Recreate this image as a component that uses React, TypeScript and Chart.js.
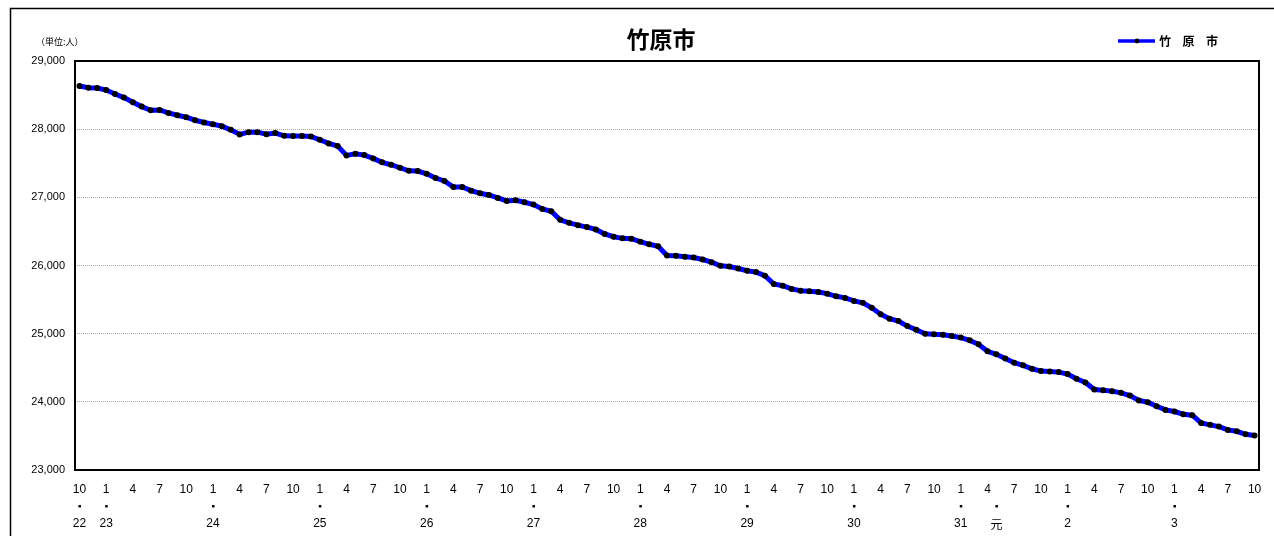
import React, { useEffect, useRef } from 'react';
import { Chart, registerables } from 'chart.js';

Chart.register(...registerables);

// Monthly population of 竹原市, H22.10 (Oct 2010) to R3.10 (Oct 2021)
const population: number[] = [
  28632, 28609, 28603, 28574, 28515, 28463, 28394, 28331, 28277, 28282,
  28238, 28204, 28175, 28131, 28098, 28073, 28044, 27990, 27923, 27956,
  27956, 27927, 27942, 27902, 27898, 27898, 27893, 27844, 27791, 27752,
  27615, 27639, 27620, 27571, 27513, 27478, 27434, 27390, 27386, 27346,
  27283, 27240, 27152, 27152, 27098, 27060, 27035, 26991, 26947, 26957,
  26928, 26894, 26830, 26796, 26670, 26626, 26592, 26563, 26529, 26462,
  26422, 26398, 26393, 26350, 26311, 26282, 26146, 26142, 26127, 26117,
  26088, 26049, 25996, 25985, 25956, 25923, 25903, 25850, 25729, 25704,
  25656, 25631, 25621, 25612, 25587, 25548, 25525, 25481, 25452, 25379,
  25286, 25219, 25184, 25111, 25058, 25000, 24990, 24985, 24965, 24942,
  24902, 24844, 24742, 24697, 24637, 24574, 24535, 24485, 24451, 24446,
  24436, 24407, 24338, 24284, 24181, 24171, 24157, 24132, 24093, 24020,
  23995, 23936, 23882, 23858, 23818, 23804, 23691, 23662, 23637, 23588,
  23568, 23524, 23505,
];

const startYear = 2010;
const startMonth = 10;

// category names "YYYY-MM"
const categories: string[] = population.map((_, i) => {
  const m0 = startMonth - 1 + i;
  const y = startYear + Math.floor(m0 / 12);
  const m = (m0 % 12) + 1;
  return `${y}-${String(m).padStart(2, '0')}`;
});

// months shown on the first row of the x axis
const shownMonths: number[] = [1, 4, 7, 10];

// era year labels (category, label)
const eraLabels: [string, string][] = [
  ['2010-10', '22'],
  ['2011-01', '23'],
  ['2012-01', '24'],
  ['2013-01', '25'],
  ['2014-01', '26'],
  ['2015-01', '27'],
  ['2016-01', '28'],
  ['2017-01', '29'],
  ['2018-01', '30'],
  ['2019-01', '31'],
  ['2019-05', '元'],
  ['2020-01', '2'],
  ['2021-01', '3'],
];

const yMin = 23000;
const yMax = 29000;
const yStep = 1000;

const titleText = '竹原市';
const legendText = '竹原市';
const unitText = '（単位:人）';

const JP = '"Noto Sans CJK JP", "Liberation Sans", sans-serif';
const NUM = '"Liberation Sans", "Noto Sans CJK JP", sans-serif';

const decorPlugin = {
  id: 'decor',
  afterDraw(chart: any) {
    const ctx = chart.ctx as CanvasRenderingContext2D;
    const { left, right, top, bottom } = chart.chartArea;
    const xs = chart.scales.x;
    const ys = chart.scales.y;
    ctx.save();

    // outer border
    ctx.strokeStyle = '#000';
    ctx.lineWidth = 1.5;
    ctx.beginPath();
    ctx.moveTo(10.5, 540);
    ctx.lineTo(10.5, 8.5);
    ctx.lineTo(1280, 8.5);
    ctx.stroke();

    // plot frame
    ctx.lineWidth = 2;
    ctx.strokeRect(left, top, right - left, bottom - top);

    // y labels
    ctx.fillStyle = '#000';
    ctx.font = `11px ${NUM}`;
    ctx.textAlign = 'right';
    ctx.textBaseline = 'middle';
    for (let v = yMin; v <= yMax; v += yStep) {
      ctx.fillText(v.toLocaleString('en-US'), 65, ys.getPixelForValue(v));
    }

    // x labels
    ctx.textAlign = 'center';
    ctx.font = `12px ${NUM}`;
    categories.forEach((c, i) => {
      const m = parseInt(c.slice(5), 10);
      if (shownMonths.includes(m)) {
        ctx.fillText(String(m), xs.getPixelForValue(i), 490);
      }
    });
    eraLabels.forEach(([c, lab]) => {
      const i = categories.indexOf(c);
      if (i < 0) return;
      const x = xs.getPixelForValue(i);
      ctx.fillRect(x - 1, 505, 2.5, 2.5);
      ctx.font = `12px ${lab === '元' ? JP : NUM}`;
      ctx.fillText(lab, x, 524);
    });

    // title
    ctx.font = `bold 23px ${JP}`;
    ctx.textAlign = 'center';
    ctx.fillText(titleText, 661, 39);

    // unit
    ctx.font = `9px ${JP}`;
    ctx.textAlign = 'left';
    ctx.fillText(unitText, 36, 42);

    // legend
    ctx.strokeStyle = '#0000ff';
    ctx.lineWidth = 3.5;
    ctx.beginPath();
    ctx.moveTo(1118, 41);
    ctx.lineTo(1155, 41);
    ctx.stroke();
    ctx.fillStyle = '#000';
    ctx.beginPath();
    ctx.arc(1137, 41, 2.4, 0, Math.PI * 2);
    ctx.fill();
    ctx.font = `bold 12px ${JP}`;
    ctx.textAlign = 'center';
    const chars = Array.from(legendText);
    chars.forEach((ch, k) => {
      ctx.fillText(ch, 1165 + k * 23.5, 41);
    });

    ctx.restore();
  },
};

export default function App() {
  const ref = useRef<HTMLCanvasElement | null>(null);

  useEffect(() => {
    if (!ref.current) return;
    const chart = new Chart(ref.current, {
      type: 'line',
      data: {
        labels: categories,
        datasets: [
          {
            label: legendText,
            data: population,
            borderColor: '#0000ff',
            borderWidth: 5,
            pointRadius: 3,
            pointBackgroundColor: '#000',
            pointBorderColor: '#000',
            pointBorderWidth: 0,
            tension: 0,
          },
        ],
      },
      options: {
        responsive: false,
        animation: false,
        layout: { padding: { left: 75, top: 61, right: 15, bottom: 66 } },
        plugins: {
          legend: { display: false },
          title: { display: false },
          tooltip: { enabled: false },
        },
        scales: {
          x: {
            type: 'category',
            offset: true,
            grid: { display: false, drawTicks: false },
            border: { display: false },
            ticks: { display: false },
            afterFit: (s: any) => {
              s.height = 0;
            },
          },
          y: {
            min: yMin,
            max: yMax,
            ticks: { display: false, stepSize: yStep },
            grid: { color: '#a8a8a8', lineWidth: 1, drawTicks: false },
            border: { display: false, dash: [1, 1] },
            afterFit: (s: any) => {
              s.width = 0;
            },
          },
        },
      },
      plugins: [decorPlugin],
    });
    return () => chart.destroy();
  }, []);

  return (
    <div style={{ position: 'fixed', left: 0, top: 0, width: 1274, height: 536, background: '#fff' }}>
      <canvas ref={ref} width={1274} height={536} />
    </div>
  );
}
